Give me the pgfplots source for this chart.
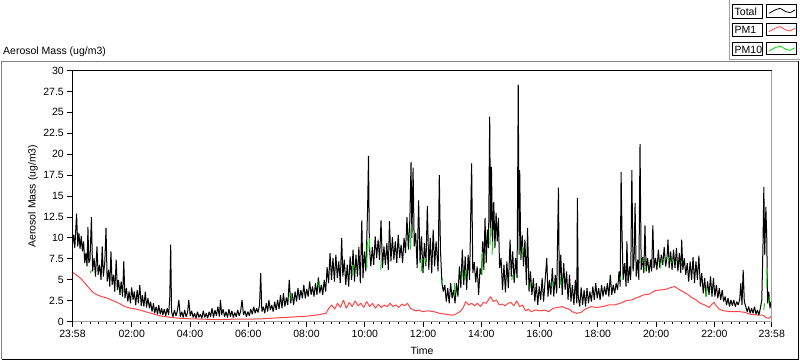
\documentclass[border=0pt]{standalone}
\usepackage{fontspec}
\setmainfont{Liberation Sans}
\usepackage{pgfplots}
\pgfplotsset{compat=1.18}
\definecolor{pmred}{RGB}{255,70,70}
\definecolor{pmgreen}{RGB}{0,220,0}
\definecolor{frgray}{RGB}{160,160,160}
\begin{document}
\fontsize{10.5}{12}\selectfont
\begin{tikzpicture}[x=1pt,y=1pt]
\path[use as bounding box] (0pt,0pt) rectangle (800pt,361pt);
% outer frame
\draw[gray, line width=1pt] (1.5pt,1.5pt) -- (1.5pt,299.5pt) -- (798.5pt,299.5pt);
\draw[black, line width=1pt] (1.5pt,1.5pt) -- (798.5pt,1.5pt) -- (798.5pt,299.5pt);
\draw[frgray, line width=1pt] (729.5pt,361pt) -- (729.5pt,301pt) -- (800pt,301pt);
\node[anchor=base west, inner sep=0] at (3pt,306pt) {Aerosol Mass (ug/m3)};
% legend
\foreach \off/\name/\col in {0/Total/black, 18.3/PM1/pmred, 37.7/PM10/pmgreen}{
  \draw[black, line width=1pt] (732.5pt,342.7pt-\off pt) rectangle (762.5pt,356pt-\off pt);
  \node[anchor=base west, inner sep=0] at (734.5pt,345.5pt-\off pt) {\name};
  \draw[black, line width=1pt] (766.7pt,343.7pt-\off pt) rectangle (796.7pt,356pt-\off pt);
  \draw[\col, line width=0.8pt] (769pt,347.7pt-\off pt) -- (775pt,351pt-\off pt) -- (780pt,352.7pt-\off pt) -- (786pt,349.3pt-\off pt) -- (790pt,348.3pt-\off pt) -- (795pt,351pt-\off pt);
}
\begin{scope}[shift={(72.5pt,39.3pt)}]
\begin{axis}[
  at={(0pt,0pt)}, anchor=south west, scale only axis,
  width=699.2pt, height=251.2pt,
  xmin=0, xmax=24, ymin=0, ymax=30,
  axis line style={draw=none},
  xtick pos=left, ytick pos=left, tick align=outside,
  major tick length=5pt, minor tick length=2.5pt,
  every tick/.style={black, line width=1pt},
  xtick={0,2.0333,4.0333,6.0333,8.0333,10.0333,12.0333,14.0333,16.0333,18.0333,20.0333,22.0333,24},
  xticklabels={23:58,02:00,04:00,06:00,08:00,10:00,12:00,14:00,16:00,18:00,20:00,22:00,23:58},
  minor xtick={0.319048,0.604762,...,23.9},
  ytick={0,2.5,5,7.5,10,12.5,15,17.5,20,22.5,25,27.5,30},
  /pgf/number format/assume math mode=true,
  xlabel={Time}, ylabel={Aerosol Mass (ug/m3)},
  xlabel style={at={(axis description cs:0.5,-0.1166)}, anchor=center},
  ylabel style={at={(axis description cs:-0.0565,0.5)}, anchor=center},
  unbounded coords=jump,
  clip mode=individual,
]
% PM1
\addplot[pmred, line width=1pt, line join=bevel] coordinates {
(0.00,5.9)(0.08,5.7)(0.20,5.4)(0.30,5.1)(0.40,4.7)(0.50,4.3)(0.60,3.9)(0.70,3.5)(0.85,3.2)(1.00,3.0)
(1.20,2.8)(1.40,2.5)(1.60,2.2)(1.80,1.8)(2.00,1.6)(2.20,1.5)(2.40,1.3)(2.60,1.1)(2.80,0.9)(3.00,0.7)
(3.20,0.6)(3.40,0.5)(3.70,0.4)(4.00,0.35)(4.50,0.3)(5.00,0.25)(5.50,0.3)(6.00,0.3)(6.50,0.35)(7.00,0.45)
(7.50,0.55)(8.00,0.65)(8.40,0.8)(8.70,1.0)(8.80,1.6)(8.90,2.0)(9.00,1.5)(9.10,2.2)(9.20,1.7)(9.30,2.6)
(9.40,1.6)(9.50,2.3)(9.60,1.8)(9.70,2.5)(9.80,1.9)(9.90,2.2)(10.00,1.7)(10.10,2.4)(10.20,1.8)(10.30,2.2)
(10.40,1.6)(10.50,2.1)(10.60,1.7)(10.70,2.0)(10.80,1.8)(10.90,2.2)(11.00,1.8)(11.10,2.0)(11.20,1.7)(11.30,2.1)
(11.40,1.9)(11.50,2.2)(11.60,1.6)(11.70,1.4)(11.80,1.3)(11.90,1.4)(12.00,1.2)(12.20,1.3)(12.40,1.2)(12.60,1.0)
(12.80,0.9)(13.00,0.8)(13.10,0.8)(13.20,1.0)(13.30,1.2)(13.40,1.6)(13.50,2.4)(13.60,2.0)(13.70,2.2)(13.80,1.9)
(13.90,2.2)(14.00,1.8)(14.10,2.3)(14.20,2.2)(14.35,3.0)(14.45,2.4)(14.55,2.6)(14.65,2.0)(14.75,2.1)(14.85,1.9)
(14.95,2.2)(15.05,2.3)(15.15,1.9)(15.25,2.5)(15.35,1.8)(15.45,2.0)(15.55,1.3)(15.65,1.5)(15.75,1.2)(15.90,1.4)
(16.05,1.3)(16.20,1.4)(16.35,1.2)(16.50,1.6)(16.65,1.7)(16.80,1.8)(16.95,1.6)(17.05,1.5)(17.15,1.2)(17.30,1.0)
(17.45,1.1)(17.60,1.5)(17.80,1.8)(18.00,1.7)(18.20,1.8)(18.40,2.0)(18.60,2.0)(18.80,2.2)(19.00,2.5)(19.20,2.6)
(19.40,2.9)(19.60,3.2)(19.80,3.3)(20.00,3.7)(20.20,3.8)(20.40,3.9)(20.55,4.1)(20.68,4.2)(20.80,3.9)(20.95,3.6)
(21.10,3.3)(21.25,2.9)(21.40,2.6)(21.55,2.2)(21.70,2.0)(21.85,1.7)(21.95,2.1)(22.02,2.3)(22.10,1.9)(22.20,1.5)
(22.35,1.3)(22.60,1.2)(22.90,1.2)(23.10,1.1)(23.25,0.9)(23.50,0.8)(23.70,0.8)(23.80,0.5)(23.90,0.4)(24.00,0.7)
};
% Total
\addplot[black, line width=1pt, line join=bevel] coordinates {
(0.00,9.2)(0.04,10.4)(0.08,8.8)(0.14,12.9)(0.18,9.0)(0.22,10.6)(0.26,8.7)(0.30,10.2)(0.34,8.4)(0.38,9.6)
(0.42,7.0)(0.46,8.2)(0.50,6.6)(0.53,11.3)(0.56,7.0)(0.60,7.4)(0.65,12.5)(0.69,6.0)(0.74,7.6)(0.79,5.4)
(0.84,9.0)(0.88,5.6)(0.93,6.8)(0.98,5.0)(1.02,9.0)(1.06,5.4)(1.11,7.2)(1.15,11.2)(1.19,4.8)(1.24,6.2)
(1.28,4.2)(1.32,8.4)(1.36,4.4)(1.41,5.6)(1.45,3.6)(1.50,7.4)(1.54,3.8)(1.58,5.0)(1.63,3.2)(1.67,4.8)
(1.72,3.0)(1.76,7.2)(1.80,2.8)(1.85,4.0)(1.90,2.4)(1.94,3.6)(1.99,2.2)(2.03,4.1)(2.08,2.6)(2.12,3.6)
(2.17,2.0)(2.22,3.8)(2.26,2.2)(2.31,4.4)(2.36,1.9)(2.40,3.2)(2.45,1.8)(2.50,3.6)(2.54,1.7)(2.59,2.8)
(2.64,1.6)(2.68,2.4)(2.73,1.2)(2.78,2.2)(2.82,1.0)(2.87,1.8)(2.92,0.9)(2.96,2.0)(3.01,0.9)(3.06,1.6)
(3.10,0.8)(3.15,1.5)(3.20,0.7)(3.25,1.6)(3.30,0.8)(3.34,3.0)(3.37,9.2)(3.40,1.2)(3.45,0.6)(3.50,1.4)
(3.55,0.7)(3.60,1.3)(3.65,2.6)(3.70,0.6)(3.75,1.2)(3.80,0.5)(3.85,1.4)(3.90,0.6)(3.95,1.1)(3.99,2.6)
(4.04,0.7)(4.09,1.3)(4.14,0.5)(4.19,1.0)(4.24,0.4)(4.29,1.2)(4.34,0.5)(4.39,0.9)(4.44,0.4)(4.49,1.3)
(4.54,0.5)(4.59,1.0)(4.64,0.4)(4.69,1.2)(4.74,0.6)(4.79,1.6)(4.84,0.5)(4.89,1.4)(4.94,0.7)(4.99,1.8)
(5.04,0.6)(5.08,2.6)(5.12,0.8)(5.17,1.5)(5.22,0.6)(5.27,1.2)(5.32,0.5)(5.37,1.5)(5.42,0.6)(5.47,1.3)
(5.52,0.5)(5.57,1.1)(5.62,0.6)(5.67,1.4)(5.72,0.7)(5.77,1.2)(5.82,2.6)(5.87,0.8)(5.92,1.3)(5.97,0.6)
(6.02,1.2)(6.07,0.7)(6.12,1.5)(6.17,0.9)(6.22,1.8)(6.27,1.0)(6.32,1.6)(6.37,1.1)(6.42,2.0)(6.46,5.8)
(6.50,1.2)(6.55,1.8)(6.60,1.0)(6.65,2.2)(6.70,1.2)(6.74,2.6)(6.79,1.4)(6.84,2.0)(6.89,1.2)(6.94,2.4)
(6.99,1.4)(7.04,2.6)(7.09,1.5)(7.14,3.2)(7.19,1.6)(7.24,3.4)(7.29,1.8)(7.34,2.9)(7.39,2.0)(7.44,5.0)
(7.49,2.2)(7.54,3.4)(7.59,2.0)(7.64,3.6)(7.69,2.4)(7.74,4.0)(7.79,2.6)(7.84,3.8)(7.89,2.8)(7.94,4.4)
(7.99,2.8)(8.04,3.9)(8.09,3.0)(8.14,4.8)(8.19,3.2)(8.24,4.2)(8.29,3.0)(8.34,4.6)(8.39,3.2)(8.44,5.3)
(8.49,3.4)(8.54,4.4)(8.59,3.2)(8.64,5.0)(8.69,3.6)(8.74,6.5)(8.79,4.6)(8.84,8.2)(8.89,5.0)(8.94,7.6)
(8.99,4.8)(9.04,8.0)(9.09,5.2)(9.14,7.2)(9.19,4.6)(9.24,10.0)(9.28,5.4)(9.33,7.4)(9.38,4.4)(9.43,6.8)
(9.48,4.2)(9.53,7.8)(9.58,5.0)(9.63,8.6)(9.68,4.8)(9.73,8.0)(9.78,5.4)(9.83,8.9)(9.88,4.6)(9.93,12.1)
(9.97,5.2)(10.02,8.4)(10.07,6.0)(10.13,13.6)(10.16,19.8)(10.19,9.0)(10.24,6.6)(10.29,8.9)(10.34,6.8)(10.39,10.2)
(10.44,7.6)(10.49,9.8)(10.54,7.4)(10.59,12.1)(10.64,6.4)(10.69,9.0)(10.74,6.8)(10.79,9.4)(10.84,6.2)(10.88,12.0)
(10.93,7.2)(10.98,10.1)(11.03,7.4)(11.08,9.6)(11.13,7.0)(11.18,10.4)(11.23,7.6)(11.28,9.2)(11.33,7.0)(11.38,10.0)
(11.43,8.2)(11.48,12.5)(11.53,8.6)(11.58,12.2)(11.62,19.1)(11.65,10.0)(11.69,18.4)(11.73,9.0)(11.78,10.6)(11.83,6.4)
(11.88,14.5)(11.93,7.0)(11.98,10.2)(12.03,5.8)(12.08,9.4)(12.13,6.6)(12.18,13.8)(12.23,6.2)(12.28,10.0)(12.33,5.8)
(12.38,11.0)(12.43,6.6)(12.48,9.6)(12.55,6.0)(12.59,17.5)(12.63,8.6)(12.68,4.6)(12.73,3.6)(12.78,4.4)(12.83,2.4)
(12.88,4.0)(12.93,2.2)(12.98,4.6)(13.03,2.8)(13.08,3.8)(13.13,2.2)(13.18,4.6)(13.23,3.0)(13.28,6.6)(13.33,4.0)
(13.38,8.6)(13.43,4.4)(13.48,7.8)(13.53,3.8)(13.58,8.0)(13.63,5.0)(13.70,18.9)(13.74,5.8)(13.79,7.1)(13.84,4.7)
(13.89,6.6)(13.94,3.2)(13.99,6.4)(14.04,5.6)(14.08,9.6)(14.12,6.2)(14.16,12.4)(14.20,7.0)(14.24,11.0)(14.28,8.8)
(14.32,24.5)(14.35,10.2)(14.38,18.5)(14.42,9.4)(14.46,14.3)(14.50,8.8)(14.54,13.0)(14.58,9.6)(14.62,12.4)(14.66,6.4)
(14.71,7.6)(14.76,3.8)(14.81,6.8)(14.86,3.5)(14.91,7.2)(14.96,4.0)(15.02,9.8)(15.06,5.4)(15.11,8.4)(15.16,4.6)
(15.21,7.6)(15.26,5.2)(15.30,28.3)(15.33,8.0)(15.35,18.1)(15.39,7.4)(15.44,10.3)(15.48,6.6)(15.53,9.8)(15.58,4.4)
(15.62,11.2)(15.67,3.6)(15.72,6.0)(15.77,3.2)(15.82,5.2)(15.87,2.4)(15.92,4.6)(15.97,2.0)(16.02,4.2)(16.07,2.6)
(16.12,5.2)(16.17,2.4)(16.22,4.8)(16.28,7.6)(16.32,3.0)(16.37,5.0)(16.42,3.2)(16.47,6.4)(16.52,3.0)(16.57,5.6)
(16.62,3.4)(16.68,16.0)(16.71,4.0)(16.76,8.0)(16.81,3.2)(16.86,7.0)(16.91,3.8)(16.96,6.0)(17.01,2.6)(17.06,5.6)
(17.11,2.4)(17.16,4.4)(17.21,2.0)(17.26,5.0)(17.31,2.2)(17.33,14.8)(17.36,3.0)(17.41,1.8)(17.46,4.1)(17.51,2.0)
(17.56,3.8)(17.61,1.8)(17.66,4.0)(17.71,2.2)(17.76,3.6)(17.81,2.4)(17.86,4.2)(17.91,2.6)(17.96,4.6)(18.01,2.8)
(18.06,4.0)(18.11,2.6)(18.16,4.4)(18.21,3.0)(18.26,4.2)(18.31,3.2)(18.36,4.6)(18.41,3.0)(18.46,5.6)(18.51,3.2)
(18.56,4.4)(18.61,3.4)(18.66,4.6)(18.71,3.8)(18.76,6.0)(18.80,4.2)(18.83,17.9)(18.86,11.0)(18.90,5.0)(18.95,7.0)
(19.00,4.2)(19.03,9.6)(19.07,4.6)(19.12,6.6)(19.16,5.0)(19.20,18.1)(19.24,6.0)(19.28,7.7)(19.31,14.2)(19.35,5.4)
(19.40,7.4)(19.44,5.0)(19.48,21.2)(19.52,6.2)(19.57,7.7)(19.61,5.8)(19.65,11.5)(19.69,6.0)(19.74,7.6)(19.79,5.8)
(19.84,7.4)(19.88,6.0)(19.92,11.5)(19.96,6.4)(20.01,7.6)(20.06,6.2)(20.11,8.6)(20.16,6.4)(20.21,8.0)(20.26,6.8)
(20.31,8.9)(20.36,6.6)(20.41,7.8)(20.44,9.8)(20.48,6.4)(20.53,8.4)(20.58,6.2)(20.63,8.6)(20.68,6.4)(20.73,8.8)
(20.78,6.0)(20.83,8.2)(20.88,5.8)(20.91,9.8)(20.95,6.2)(21.00,7.6)(21.05,5.6)(21.10,7.0)(21.15,4.8)(21.20,7.2)
(21.25,5.0)(21.30,7.7)(21.35,4.6)(21.40,7.2)(21.45,5.0)(21.50,7.9)(21.55,4.2)(21.60,5.8)(21.65,3.4)(21.70,5.2)
(21.75,3.0)(21.80,4.8)(21.85,3.2)(21.90,5.4)(21.95,3.0)(22.00,5.2)(22.05,3.0)(22.10,4.4)(22.15,2.8)(22.20,4.0)
(22.25,2.6)(22.30,3.8)(22.35,2.4)(22.40,3.0)(22.45,2.0)(22.50,2.8)(22.55,1.8)(22.60,2.6)(22.65,1.9)(22.70,2.6)
(22.75,1.8)(22.80,2.4)(22.85,2.0)(22.90,2.6)(22.94,4.6)(22.98,2.0)(23.02,6.2)(23.06,2.4)(23.11,1.8)(23.16,1.2)
(23.21,1.8)(23.26,1.0)(23.31,1.6)(23.36,1.0)(23.41,1.8)(23.46,0.9)(23.51,1.4)(23.56,0.8)(23.61,1.6)(23.66,2.6)
(23.70,9.0)(23.73,16.1)(23.76,8.0)(23.80,13.7)(23.83,10.0)(23.86,2.2)(23.90,3.6)(23.94,1.6)(23.98,2.4)(24.00,1.8)
};
% PM10 (visible fragments)
\addplot[pmgreen, line width=1pt] coordinates {
(0.62,5.8)(0.64,6.2)(0.63,nan)
(1.66,3.6)(1.68,3.9)(1.67,nan)
(7.50,2.6)(7.52,3.4)(7.51,nan)
(8.45,4.0)(8.47,4.8)(8.46,nan)
(9.60,5.6)(9.62,6.8)(9.61,nan)
(10.10,6.4)(10.12,9.6)(10.11,nan)
(10.18,8.6)(10.20,10.0)(10.19,nan)
(10.58,6.2)(10.60,7.4)(10.59,nan)
(11.60,8.6)(11.62,11.3)(11.61,nan)
(11.98,6.0)(12.00,7.6)(11.99,nan)
(12.10,7.0)(12.12,7.6)(12.11,nan)
(12.68,4.6)(12.70,5.2)(12.69,nan)
(13.10,3.0)(13.12,4.6)(13.11,nan)
(13.36,5.0)(13.38,6.0)(13.37,nan)
(13.48,5.2)(13.50,6.2)(13.49,nan)
(14.05,5.6)(14.07,8.3)(14.06,nan)
(14.33,9.2)(14.35,11.2)(14.34,nan)
(14.40,8.0)(14.42,9.6)(14.41,nan)
(15.08,5.0)(15.10,5.6)(15.09,nan)
(15.43,7.6)(15.45,9.0)(15.44,nan)
(15.70,4.0)(15.72,4.6)(15.71,nan)
(16.45,4.2)(16.47,4.8)(16.46,nan)
(16.74,4.4)(16.76,5.4)(16.75,nan)
(18.80,5.0)(18.82,5.4)(18.81,nan)
(19.57,7.0)(19.59,7.6)(19.58,nan)
(19.62,6.0)(19.64,6.6)(19.63,nan)
(20.17,6.4)(20.19,7.1)(20.18,nan)
(20.22,7.0)(20.24,7.6)(20.23,nan)
(20.45,7.2)(20.47,7.8)(20.46,nan)
(20.57,7.0)(20.59,7.4)(20.58,nan)
(20.90,7.0)(20.92,7.3)(20.91,nan)
(21.75,3.0)(21.77,4.1)(21.76,nan)
(23.73,1.4)(23.75,2.2)(23.74,nan)
(23.83,4.1)(23.85,6.4)(23.84,nan)
(23.90,2.2)(23.92,3.0)
};
% plot frame
\draw[frgray, line width=1pt] (rel axis cs:0,0) -- (rel axis cs:1,0) -- (rel axis cs:1,1);
\draw[black, line width=1pt] (rel axis cs:0,0) -- (rel axis cs:0,1) -- (rel axis cs:1,1);
\end{axis}
\end{scope}
\end{tikzpicture}
\end{document}
